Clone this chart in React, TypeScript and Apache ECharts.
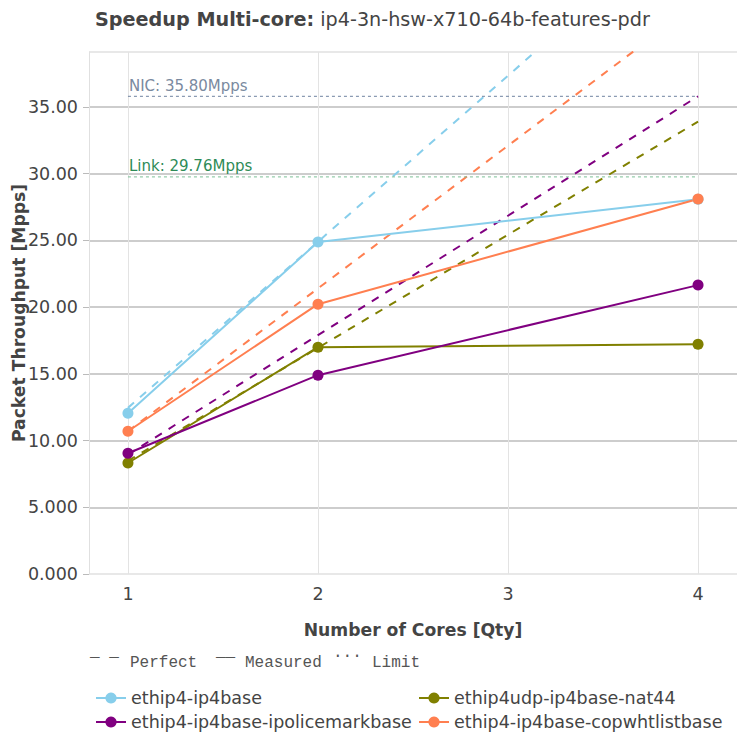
import React, { useEffect, useRef } from "react";
import * as echarts from "echarts";

const cores = [1, 2, 4];
const perfectCores = [1, 2, 3, 4];
const seriesNames = [
  "ethip4-ip4base",
  "ethip4udp-ip4base-nat44",
  "ethip4-ip4base-ipolicemarkbase",
  "ethip4-ip4base-copwhtlistbase",
];
const colors = ["#87CEEB", "#808000", "#800080", "#FF7F50"];
const measured = [
  [12.05, 24.88, 28.08],
  [8.32, 17.0, 17.22],
  [9.05, 14.9, 21.65],
  [10.7, 20.22, 28.1],
];
const perfect = [
  [12.45, 24.9, 37.35, 49.8],
  [8.48, 16.95, 25.43, 33.9],
  [8.95, 17.9, 26.85, 35.8],
  [10.7, 21.4, 32.1, 42.8],
];
const limitNames = ["NIC: 35.80Mpps", "Link: 29.76Mpps"];
const limitValues = [35.8, 29.76];
const limitLineColors = ["#6f83a0", "#7cbf96"];
const limitTextColors = ["#7a8aa0", "#2e8b57"];
const xTicks = [1, 2, 3, 4];
const legendPos = [
  { left: 95, top: 689 },
  { left: 418, top: 689 },
  { left: 95, top: 713 },
  { left: 418, top: 713 },
];

const FONT = "DejaVu Sans";
const MONO = "Liberation Mono";

function fmtY(v: number): string {
  if (v === 0) return "0.000";
  if (Math.abs(v) < 10) return v.toFixed(3);
  return v.toFixed(2);
}

export default function App() {
  const ref = useRef<HTMLDivElement>(null);
  useEffect(() => {
    if (!ref.current) return;
    const chart = echarts.init(ref.current, null, { renderer: "svg" });
    const series: any[] = [];
    seriesNames.forEach((n, i) => {
      series.push({
        name: n + " (perfect)",
        type: "line",
        data: perfectCores.map((c, j) => [c, perfect[i][j]]),
        symbol: "none",
        lineStyle: { color: colors[i], width: 2, type: [8, 8] },
        itemStyle: { color: colors[i] },
        silent: true,
        z: 2,
      });
    });
    limitNames.forEach((n, i) => {
      series.push({
        name: n,
        type: "line",
        data: [
          [xTicks[0], limitValues[i]],
          [xTicks[xTicks.length - 1], limitValues[i]],
        ],
        symbol: "none",
        lineStyle: { color: limitLineColors[i], width: 1, type: [3, 3] },
        silent: true,
        z: 2,
        markPoint: {
          symbol: "circle",
          symbolSize: 0,
          data: [{ coord: [xTicks[0], limitValues[i]] }],
          label: {
            show: true,
            formatter: n,
            position: [1, -18],
            align: "left",
            color: limitTextColors[i],
            fontFamily: FONT,
            fontSize: 15,
          },
        },
      });
    });
    seriesNames.forEach((n, i) => {
      series.push({
        name: n,
        type: "line",
        data: cores.map((c, j) => [c, measured[i][j]]),
        symbol: "circle",
        symbolSize: 11,
        showSymbol: true,
        lineStyle: { color: colors[i], width: 2 },
        itemStyle: { color: colors[i] },
        z: 3,
      });
    });

    const option: any = {
      animation: false,
      backgroundColor: "#ffffff",
      title: {
        text: "{tb|Speedup Multi-core:} {tn|ip4-3n-hsw-x710-64b-features-pdr}",
        left: 95,
        top: 10,
        padding: 0,
        textStyle: {
          fontFamily: FONT,
          fontSize: 19.2,
          fontWeight: "normal",
          color: "#444",
          rich: {
            tb: { fontFamily: FONT, fontWeight: "bold", fontSize: 19.2, color: "#444" },
            tn: { fontFamily: FONT, fontWeight: "normal", fontSize: 19.2, color: "#444" },
          },
        },
      },
      legend: legendPos.map((p, i) => ({
        data: [seriesNames[i]],
        left: p.left,
        top: p.top,
        itemWidth: 30,
        itemHeight: 14,
        padding: 0,
        textStyle: { fontFamily: FONT, fontSize: 17.5, color: "#444" },
        selectedMode: false,
      })),
      grid: {
        left: 89,
        right: 0,
        top: 52,
        bottom: 159,
        containLabel: false,
        outerBoundsMode: "none",
      },
      xAxis: {
        type: "value",
        min: 0.795,
        max: 4.205,
        name: "Number of Cores [Qty]",
        nameLocation: "middle",
        nameGap: 47,
        nameMoveOverlap: false,
        nameTextStyle: { fontFamily: FONT, fontWeight: "bold", fontSize: 17.2, color: "#444" },
        axisLine: { show: false },
        axisTick: { show: false, customValues: xTicks },
        axisLabel: {
          customValues: xTicks,
          fontFamily: FONT,
          fontSize: 17.5,
          color: "#444",
          margin: 11,
        },
        splitLine: { show: true, lineStyle: { color: "#e3e3e3", width: 1 } },
      },
      yAxis: {
        type: "value",
        min: 0,
        max: 39.12,
        interval: 5,
        name: "Packet Throughput [Mpps]",
        nameLocation: "middle",
        nameGap: 62,
        nameMoveOverlap: false,
        nameTextStyle: { fontFamily: FONT, fontWeight: "bold", fontSize: 17.2, color: "#444" },
        axisLine: { show: true, lineStyle: { color: "#e0e0e0", width: 1 } },
        axisTick: { show: true, length: 6, lineStyle: { color: "#bbbbbb" } },
        axisLabel: {
          formatter: (v: number) => fmtY(v),
          fontFamily: FONT,
          fontSize: 17.5,
          color: "#444",
          margin: 11,
          showMaxLabel: false,
        },
        splitLine: {
          show: true,
          lineStyle: {
            color: ["#e0e0e0", "#bdbdbd", "#bdbdbd", "#bdbdbd", "#bdbdbd", "#bdbdbd", "#bdbdbd", "#bdbdbd"],
            width: 1.5,
          },
        },
      },
      graphic: [
        { type: "text", left: 90, top: 658, style: { text: "¯ ¯", font: `16px "${MONO}"`, fill: "#555" } },
        { type: "text", left: 130, top: 655, style: { text: "Perfect", font: `16px "${MONO}"`, fill: "#555" } },
        { type: "text", left: 216, top: 658, style: { text: "¯¯", font: `16px "${MONO}"`, fill: "#555" } },
        { type: "text", left: 245, top: 655, style: { text: "Measured", font: `16px "${MONO}"`, fill: "#555" } },
        { type: "text", left: 333, top: 645, style: { text: "...", font: `16px "${MONO}"`, fill: "#555" } },
        { type: "text", left: 372, top: 655, style: { text: "Limit", font: `16px "${MONO}"`, fill: "#555" } },
      ],
      series,
    };
    chart.setOption(option);
    return () => chart.dispose();
  }, []);
  return (
    <div
      ref={ref}
      style={{ position: "fixed", left: 0, top: 0, width: 737, height: 733 }}
    />
  );
}
